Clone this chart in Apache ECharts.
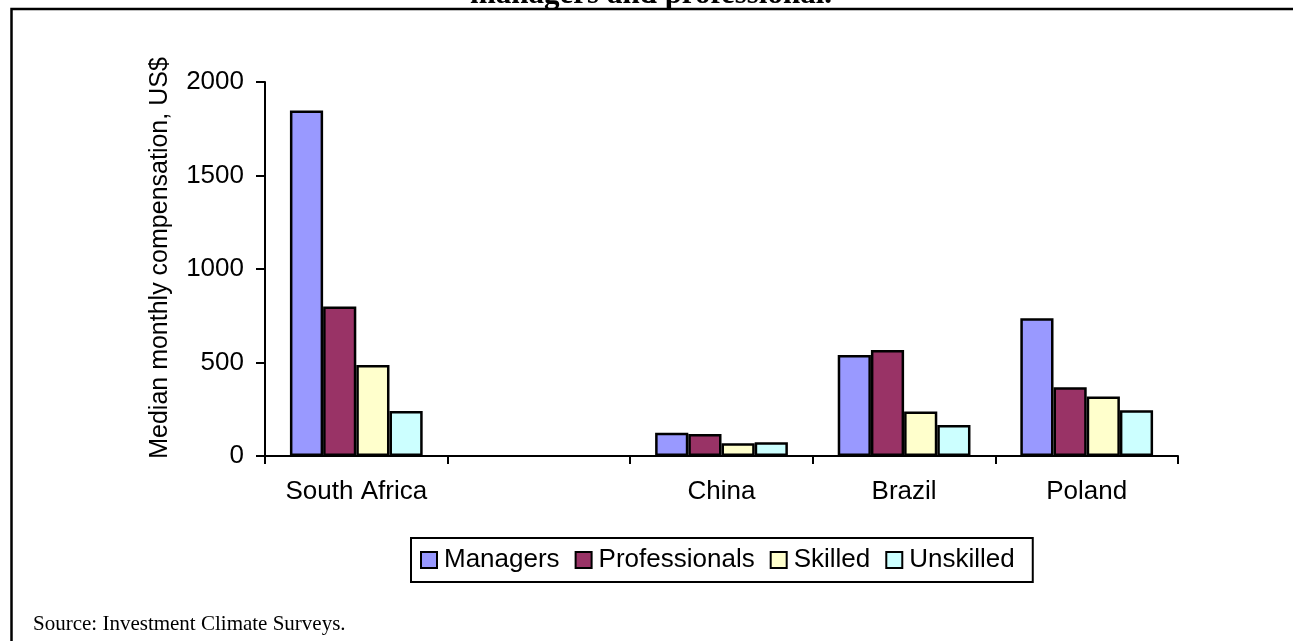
<!DOCTYPE html>
<html>
<head>
<meta charset="utf-8">
<script src="https://cdn.jsdelivr.net/npm/echarts@6/dist/echarts.min.js"></script>
<style>
  html, body { margin: 0; padding: 0; background: #ffffff; }
  #chart { width: 1293px; height: 641px; }
</style>
</head>
<body>
<div id="chart"></div>
<script>
// Median monthly compensation by occupation group, US$
const categories = ['South Africa', '', 'China', 'Brazil', 'Poland'];
const seriesNames = ['Managers', 'Professionals', 'Skilled', 'Unskilled'];
const managers = [1848, null, 125, 540, 737];
const professionals = [800, null, 118, 567, 368];
const skilled = [487, null, 68, 238, 318];
const unskilled = [241, null, 74, 166, 245];
const yTicks = { min: 0, max: 2000, step: 500 };

const seriesValues = [managers, professionals, skilled, unskilled];
const fillColors = ['#9999FF', '#993366', '#FFFFCC', '#CCFFFF'];

const SANS = '"Liberation Sans", Arial, sans-serif';
const SERIF = '"Liberation Serif", "Times New Roman", serif';

const chart = echarts.init(document.getElementById('chart'), null, { renderer: 'canvas' });

chart.setOption({
  animation: false,
  backgroundColor: '#ffffff',
  grid: { left: 265, right: 115, top: 82, bottom: 185, outerBoundsMode: 'none' },
  xAxis: {
    type: 'category',
    data: categories,
    boundaryGap: true,
    axisLine: { lineStyle: { color: '#000', width: 2 } },
    axisTick: { show: true, length: 8, interval: 0, lineStyle: { color: '#000', width: 2 } },
    axisLabel: { color: '#000', fontFamily: SANS, fontSize: 26, margin: 23, interval: 0 }
  },
  yAxis: {
    type: 'value',
    min: yTicks.min,
    max: yTicks.max,
    interval: yTicks.step,
    axisLine: { show: true, lineStyle: { color: '#000', width: 2 } },
    axisTick: { show: true, length: 9, lineStyle: { color: '#000', width: 2 } },
    axisLabel: {
      color: '#000', fontFamily: SANS, fontSize: 26, margin: 21,
      formatter: (v) => String(v)
    },
    splitLine: { show: false }
  },
  legend: {
    left: 411,
    top: 538,
    orient: 'horizontal',
    padding: [9, 18, 9, 9],
    itemGap: 15,
    itemWidth: 16,
    itemHeight: 16,
    icon: 'rect',
    borderColor: '#000',
    borderWidth: 2,
    itemStyle: { borderColor: '#000', borderWidth: 2 },
    textStyle: { color: '#000', fontFamily: SANS, fontSize: 26, padding: [0, 0, 0, 2] },
    data: seriesNames
  },
  series: seriesNames.map((name, i) => ({
    name: name,
    type: 'bar',
    data: seriesValues[i],
    barGap: '0%',
    barCategoryGap: '27.3%',
    itemStyle: { color: fillColors[i], borderColor: '#000', borderWidth: 2.5 }
  })),
  graphic: [
    {
      type: 'rect',
      shape: { x: 11.5, y: 9, width: 1400, height: 700 },
      style: { fill: 'none', stroke: '#000', lineWidth: 2.5 },
      silent: true,
      z: 100
    },
    {
      type: 'text',
      x: 651,
      y: -21,
      style: {
        text: 'managers and professional.',
        fill: '#000',
        font: 'bold 31px ' + SERIF,
        textAlign: 'center'
      },
      z: 100
    },
    {
      type: 'text',
      x: 160,
      y: 258,
      rotation: Math.PI / 2,
      style: {
        text: 'Median monthly compensation, US$',
        fill: '#000',
        font: '25px ' + SANS,
        textAlign: 'center',
        textVerticalAlign: 'middle'
      }
    },
    {
      type: 'text',
      x: 33,
      y: 614,
      style: {
        text: 'Source: Investment Climate Surveys.',
        fill: '#000',
        font: '21px ' + SERIF,
        textAlign: 'left'
      }
    }
  ]
});
</script>
</body>
</html>
